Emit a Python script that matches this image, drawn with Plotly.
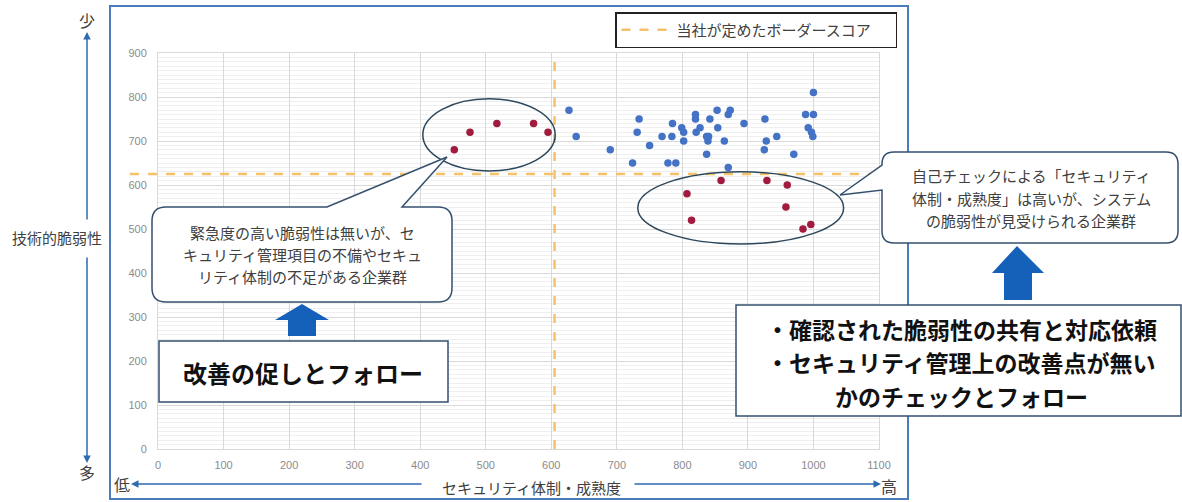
import plotly.graph_objects as go

# ---------------- data ----------------
blue_x = [627, 638, 690, 724, 731, 734, 750, 769, 778, 784, 785, 790, 799, 802, 802,
          820, 820, 821, 827, 837, 840, 839, 837, 842, 853, 854, 864, 870, 873, 870,
          894, 926, 928, 925, 944, 970, 988, 1000, 1000, 992, 997, 999]
blue_y = [770, 710, 680, 650, 720, 750, 690, 710, 650, 710, 740, 650, 730, 720, 700,
          760, 750, 720, 730, 710, 710, 700, 670, 750, 770, 730, 700, 760, 770, 640,
          740, 750, 700, 680, 710, 670, 760, 760, 810, 730, 720, 710]
red_x = [452, 476, 517, 573, 595, 807, 814, 859, 929, 960, 958, 984, 996]
red_y = [680, 720, 740, 740, 720, 580, 520, 610, 610, 600, 550, 500, 510]

border_x = 605
border_y = 625
x_ticks = list(range(0, 1101, 100))
y_ticks = list(range(0, 901, 100))
legend_name = "当社が定めたボーダースコア"
x_title = "セキュリティ体制・成熟度"
y_title = "技術的脆弱性"
left_callout_lines = ["緊急度の高い脆弱性は無いが、セ",
                      "キュリティ管理項目の不備やセキュ",
                      "リティ体制の不足がある企業群"]
right_callout_lines = ["自己チェックによる「セキュリティ",
                       "体制・成熟度」は高いが、システム",
                       "の脆弱性が見受けられる企業群"]
left_action = "改善の促しとフォロー"
right_action_lines = ["・確認された脆弱性の共有と対応依頼",
                      "・セキュリティ管理上の改善点が無い",
                      "かのチェックとフォロー"]

# ---------------- layout helpers ----------------
FIG_W, FIG_H = 1182, 502
L, T, W, H = 158, 53, 721, 396
FONT = "Noto Sans CJK JP"
BLUE = "#4472C4"
RED = "#A11B3F"
ORANGE = "#F5C26B"
FRAME = "#4A7BBB"
DARK = "#34506E"
ARROW_BLUE = "#1560B8"
AX_ARROW = "#2E6BB0"
TXT = "#404040"


def P(px, py):
    return (px - L) / W, (T + H - py) / H


def pt(px, py):
    x, y = P(px, py)
    return f"{x:.5f},{y:.5f}"


def rounded_callout(x0, y0, x1, y1, r, top_ptr=None, left_ptr=None):
    s = f"M {pt(x0 + r, y0)} "
    if top_ptr:
        (a, tip, b) = top_ptr
        s += f"L {pt(a, y0)} L {pt(*tip)} L {pt(b, y0)} "
    s += f"L {pt(x1 - r, y0)} Q {pt(x1, y0)} {pt(x1, y0 + r)} "
    s += f"L {pt(x1, y1 - r)} Q {pt(x1, y1)} {pt(x1 - r, y1)} "
    s += f"L {pt(x0 + r, y1)} Q {pt(x0, y1)} {pt(x0, y1 - r)} "
    if left_ptr:
        (lo, tip, hi) = left_ptr
        s += f"L {pt(x0, lo)} L {pt(*tip)} L {pt(x0, hi)} "
    s += f"L {pt(x0, y0 + r)} Q {pt(x0, y0)} {pt(x0 + r, y0)} Z"
    return s


def block_arrow(tip_x, tip_y, head_y, head_l, head_r, sh_l, sh_r, bottom):
    return (f"M {pt(tip_x, tip_y)} L {pt(head_r, head_y)} L {pt(sh_r, head_y)} "
            f"L {pt(sh_r, bottom)} L {pt(sh_l, bottom)} L {pt(sh_l, head_y)} "
            f"L {pt(head_l, head_y)} Z")


fig = go.Figure()
fig.add_trace(go.Scatter(x=blue_x, y=blue_y, mode="markers",
                         marker=dict(color=BLUE, size=7.5), showlegend=False,
                         hoverinfo="x+y"))
fig.add_trace(go.Scatter(x=red_x, y=red_y, mode="markers",
                         marker=dict(color=RED, size=7.5), showlegend=False,
                         hoverinfo="x+y"))

shapes = []
# outer frame
fx0, fy0 = P(110, 6)
fx1, fy1 = P(908, 499)
shapes.append(dict(type="rect", xref="paper", yref="paper", x0=fx0, y0=fy1, x1=fx1, y1=fy0,
                   line=dict(color=FRAME, width=2), layer="below"))
# border lines
hx0, _ = P(130, 0)
hx1, _ = P(893, 0)
shapes.append(dict(type="line", xref="paper", yref="y", x0=hx0, x1=hx1,
                   y0=border_y, y1=border_y,
                   line=dict(color=ORANGE, width=2.5, dash="dash"),
                   showlegend=True, name=legend_name))
shapes.append(dict(type="line", xref="x", yref="y", x0=border_x, x1=border_x,
                   y0=0, y1=890, line=dict(color=ORANGE, width=2.5, dash="dash")))
# ellipses around red groups
shapes.append(dict(type="circle", xref="x", yref="y", x0=404, x1=606, y0=632, y1=796,
                   line=dict(color="#2C475C", width=1.5)))
shapes.append(dict(type="circle", xref="x", yref="y", x0=732, x1=1046, y0=466, y1=630,
                   line=dict(color="#2C475C", width=1.5)))
# callouts
shapes.append(dict(type="path", xref="paper", yref="paper",
                   path=rounded_callout(152, 207, 452, 302, 14,
                                        top_ptr=(327, (447, 157), 402)),
                   fillcolor="white", line=dict(color=DARK, width=1.5)))
shapes.append(dict(type="path", xref="paper", yref="paper",
                   path=rounded_callout(882, 152, 1178, 243, 12,
                                        left_ptr=(190, (840, 195), 165)),
                   fillcolor="white", line=dict(color=DARK, width=1.5)))
# boxes
bx0, by0 = P(159, 341)
bx1, by1 = P(448, 402)
shapes.append(dict(type="rect", xref="paper", yref="paper", x0=bx0, y0=by1, x1=bx1, y1=by0,
                   fillcolor="white", line=dict(color=DARK, width=1.5)))
bx0, by0 = P(736, 305)
bx1, by1 = P(1181, 416)
shapes.append(dict(type="rect", xref="paper", yref="paper", x0=bx0, y0=by1, x1=bx1, y1=by0,
                   fillcolor="white", line=dict(color=DARK, width=1.5)))
# block arrows
shapes.append(dict(type="path", xref="paper", yref="paper",
                   path=block_arrow(302, 304, 320, 275, 329, 288, 316, 336),
                   fillcolor=ARROW_BLUE, line=dict(width=0)))
shapes.append(dict(type="path", xref="paper", yref="paper",
                   path=block_arrow(1017, 246, 273, 992, 1044, 1004, 1032, 300),
                   fillcolor=ARROW_BLUE, line=dict(width=0)))

annotations = []


def text(px, py, s, size=15, color=TXT, bold=False, xanchor="center"):
    x, y = P(px, py)
    annotations.append(dict(xref="paper", yref="paper", x=x, y=y, text=f"<b>{s}</b>" if bold else s,
                            showarrow=False, xanchor=xanchor, yanchor="middle", align="center",
                            font=dict(family=FONT, size=size, color=color)))


def text_block(px, py_center, lines, size, spacing, **kw):
    n = len(lines)
    for i, s in enumerate(lines):
        text(px, py_center + (i - (n - 1) / 2) * spacing, s, size=size, **kw)


def arrow(hx, hy, tx, ty):
    x, y = P(hx, hy)
    annotations.append(dict(xref="paper", yref="paper", x=x, y=y, ax=tx - hx, ay=ty - hy,
                            text="", showarrow=True, arrowhead=2, arrowsize=1,
                            arrowwidth=1.5, arrowcolor=AX_ARROW, standoff=0))


text(57, 238, y_title)
text(87, 20, "少", size=16)
text(87, 472, "多", size=16)
text(122, 484, "低", size=16)
text(889, 486, "高", size=16)
text(531, 487, x_title)
arrow(87, 32, 87, 221)
arrow(87, 463, 87, 256)
arrow(131, 484, 423, 484)
arrow(881, 484, 633, 484)

text_block(302, 254, left_callout_lines, size=15, spacing=22)
text_block(1031, 198, right_callout_lines, size=15, spacing=22)
text(303, 372, left_action, size=24, color="#111111", bold=True)
text_block(961, 362, right_action_lines, size=23, spacing=33.5, color="#111111", bold=True)

lgx, lgy = P(615, 12)
fig.update_layout(
    width=FIG_W, height=FIG_H,
    margin=dict(l=L, r=FIG_W - L - W, t=T, b=FIG_H - T - H),
    paper_bgcolor="white", plot_bgcolor="white",
    shapes=shapes, annotations=annotations,
    showlegend=True,
    legend=dict(x=lgx, y=lgy, xanchor="left", yanchor="top", bgcolor="white",
                orientation="h", entrywidth=214, itemwidth=50,
                bordercolor="#222222", borderwidth=1.5,
                font=dict(family=FONT, size=15, color=TXT)),
    xaxis=dict(range=[0, 1100], tickvals=x_ticks, showgrid=True, gridcolor="#D9D9D9",
               zeroline=False, showline=True, linecolor="#D9D9D9", mirror=True,
               ticks="", ticklabelstandoff=6,
               tickfont=dict(family="Liberation Sans", size=11, color="#8C8C8C")),
    yaxis=dict(range=[0, 900], tickvals=y_ticks, showgrid=True, gridcolor="#D9D9D9",
               minor=dict(dtick=10, showgrid=True, gridcolor="#EFEFEF", gridwidth=1),
               zeroline=False, showline=True, linecolor="#D9D9D9", mirror=True,
               ticks="", ticklabelstandoff=8,
               tickfont=dict(family="Liberation Sans", size=11, color="#8C8C8C")),
)

fig.write_html("out.html")
